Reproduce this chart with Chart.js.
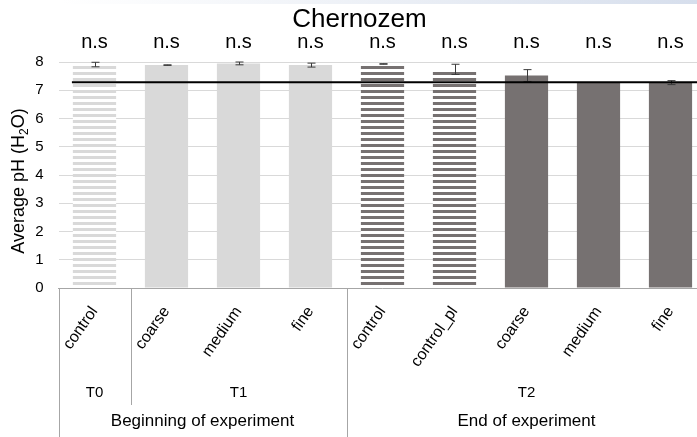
<!DOCTYPE html>
<html>
<head>
<meta charset="utf-8">
<script src="https://cdn.jsdelivr.net/npm/chart.js@4.4.1/dist/chart.umd.min.js"></script>
<style>
  html, body { margin: 0; padding: 0; background: #fff; overflow: hidden; }
  #wrap { width: 697px; height: 437px; overflow: hidden; }
</style>
</head>
<body>
<div id="wrap"><canvas id="myChart" width="715" height="437"></canvas></div>
<script>
// values
const categories = ['control', 'coarse', 'medium', 'fine', 'control', 'control_pl', 'coarse', 'medium', 'fine'];
const meanPH = [7.91, 7.89, 7.95, 7.89, 7.93, 7.74, 7.52, 7.28, 7.27];
const errPH = [0.08, 0.01, 0.05, 0.07, 0.01, 0.18, 0.21, 0.0, 0.07];
const signif = ['n.s', 'n.s', 'n.s', 'n.s', 'n.s', 'n.s', 'n.s', 'n.s', 'n.s'];
const timeGroups = ['T0', 'T1', 'T2'];
const timeSpans = [1, 3, 5];
const phases = ['Beginning of experiment', 'End of experiment'];
const phaseSpans = [4, 5];
const refPH = 7.28;
const yTicks = [0, 1, 2, 3, 4, 5, 6, 7, 8];

const FONT = '"Liberation Sans", Arial, sans-serif';
const LIGHT = '#d9d9d9';
const DARK = '#767171';
const SEP = '#a6a6a6';

function stripes(color){
  const c = document.createElement('canvas');
  c.width = 6; c.height = 6;
  const g = c.getContext('2d');
  g.fillStyle = '#fff';
  g.fillRect(0, 0, 6, 6);
  g.fillStyle = color;
  g.fillRect(0, 0, 6, 3);
  return g.createPattern(c, 'repeat');
}

const barColors = [stripes(LIGHT), LIGHT, LIGHT, LIGHT, stripes(DARK), stripes(DARK), DARK, DARK, DARK];

// edge of category i (left side), from the x scale
function catEdge(xs, i){
  const n = categories.length;
  const step = (xs.getPixelForValue(n - 1) - xs.getPixelForValue(0)) / (n - 1);
  return xs.getPixelForValue(0) - step / 2 + step * i;
}

const decor = {
  id: 'decor',
  beforeDraw(chart){
    const ctx = chart.ctx;
    ctx.save();
    ctx.fillStyle = '#fff';
    ctx.fillRect(0, 0, chart.width, chart.height);
    const gr = ctx.createLinearGradient(60, 0, 697, 0);
    gr.addColorStop(0, 'rgba(220,227,238,0)');
    gr.addColorStop(1, 'rgba(214,222,236,1)');
    ctx.fillStyle = gr;
    ctx.fillRect(0, 0, chart.width, 4);
    ctx.restore();
  },
  afterDatasetsDraw(chart){
    const {ctx, scales: {x, y}} = chart;
    const bars = chart.getDatasetMeta(0).data;
    ctx.save();
    // error bars
    ctx.strokeStyle = '#3a3a3a';
    ctx.lineWidth = 1;
    bars.forEach((b, i) => {
      if(!errPH[i]) return;
      const cx = Math.round(b.x) + 0.5;
      const top = y.getPixelForValue(meanPH[i] + errPH[i]);
      const bot = y.getPixelForValue(meanPH[i] - errPH[i]);
      ctx.beginPath();
      ctx.moveTo(cx, top); ctx.lineTo(cx, bot);
      ctx.moveTo(cx - 4, top); ctx.lineTo(cx + 4, top);
      ctx.moveTo(cx - 4, bot); ctx.lineTo(cx + 4, bot);
      ctx.stroke();
    });
    // reference line
    const ry = y.getPixelForValue(refPH);
    ctx.strokeStyle = '#000';
    ctx.lineWidth = 2;
    ctx.beginPath();
    ctx.moveTo(bars[0].x - bars[0].width / 2 - 1, ry);
    ctx.lineTo(chart.chartArea.right, ry);
    ctx.stroke();
    ctx.restore();
  },
  afterDraw(chart){
    const {ctx, chartArea, scales: {x, y}} = chart;
    ctx.save();
    ctx.fillStyle = '#000';
    ctx.textAlign = 'center';
    ctx.textBaseline = 'alphabetic';

    // title
    ctx.font = '26px ' + FONT;
    ctx.fillText('Chernozem', 359.5, 27);

    // significance labels
    ctx.font = '20px ' + FONT;
    categories.forEach((c, i) => {
      ctx.fillText(signif[i], x.getPixelForValue(i), 48);
    });

    // y axis title with subscript
    ctx.save();
    ctx.translate(24, (chartArea.top + chartArea.bottom) / 2 + 6);
    ctx.rotate(-Math.PI / 2);
    ctx.textAlign = 'left';
    const big = '18px ' + FONT, small = '12px ' + FONT;
    const parts = [['Average pH (H', big, 0], ['2', small, 4], ['O)', big, 0]];
    let total = 0;
    parts.forEach(p => { ctx.font = p[1]; total += ctx.measureText(p[0]).width; });
    let px = -total / 2;
    parts.forEach(p => {
      ctx.font = p[1];
      ctx.fillText(p[0], px, p[2]);
      px += ctx.measureText(p[0]).width;
    });
    ctx.restore();

    // hierarchical x labels and separators
    const base = chartArea.bottom;
    ctx.strokeStyle = SEP;
    ctx.lineWidth = 1;
    let idx = 0;
    ctx.font = '15px ' + FONT;
    ctx.textBaseline = 'middle';
    timeGroups.forEach((t, g) => {
      const l = catEdge(x, idx), r = catEdge(x, idx + timeSpans[g]);
      ctx.fillText(t, (l + r) / 2, 393);
      if(idx > 0){
        ctx.beginPath();
        ctx.moveTo(Math.round(l) + 0.5, base);
        ctx.lineTo(Math.round(l) + 0.5, 405);
        ctx.stroke();
      }
      idx += timeSpans[g];
    });
    idx = 0;
    ctx.font = '17px ' + FONT;
    phases.forEach((p, g) => {
      const l = catEdge(x, idx), r = catEdge(x, idx + phaseSpans[g]);
      ctx.fillText(p, (l + r) / 2, 421);
      [l, r].forEach(ex => {
        ctx.beginPath();
        ctx.moveTo(Math.round(ex) + 0.5, base);
        ctx.lineTo(Math.round(ex) + 0.5, chart.height);
        ctx.stroke();
      });
      idx += phaseSpans[g];
    });
    ctx.restore();
  }
};

new Chart('myChart', {
  type: 'bar',
  data: {
    labels: categories,
    datasets: [{
      data: meanPH,
      backgroundColor: barColors,
      borderWidth: 0,
      categoryPercentage: 1,
      barPercentage: 0.6
    }]
  },
  plugins: [decor],
  options: {
    responsive: false,
    animation: false,
    devicePixelRatio: 1,
    layout: { padding: { top: 62, right: 8.5, left: 0, bottom: 0 } },
    plugins: {
      legend: { display: false },
      tooltip: { enabled: false },
      title: { display: false }
    },
    scales: {
      x: {
        grid: { display: false, drawTicks: false },
        border: { display: true, color: SEP, width: 1 },
        ticks: {
          color: '#000',
          font: { family: FONT, size: 16 },
          minRotation: 55,
          maxRotation: 55,
          padding: 15
        },
        afterFit(s){ s.height = 149; }
      },
      y: {
        min: 0,
        max: 8,
        afterBuildTicks(s){ s.ticks = yTicks.map(v => ({value: v})); },
        grid: { color: LIGHT, drawTicks: false },
        border: { display: false },
        ticks: {
          color: '#000',
          font: { family: FONT, size: 15 },
          padding: 15
        },
        afterFit(s){ s.width = 58.5; }
      }
    }
  }
});
</script>
</body>
</html>
